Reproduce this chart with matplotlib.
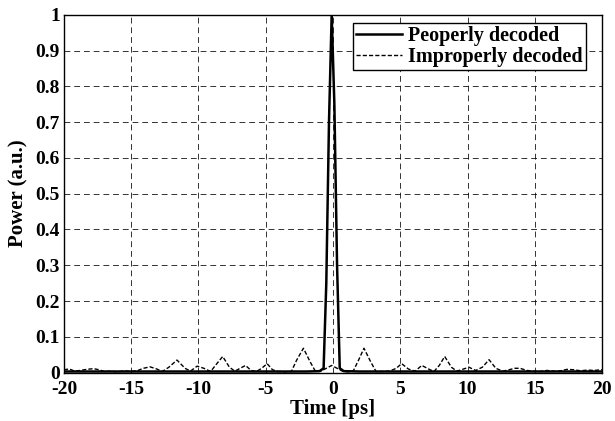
import matplotlib.pyplot as plt

plt.rcParams['font.family'] = ['Liberation Serif', 'DejaVu Serif']
plt.rcParams['font.weight'] = 'bold'

# properly decoded: narrow main peak near t = 0
proper_t = [-20, -10, -2, -1.0, -0.7, -0.5, -0.3, -0.1, 0.1, 0.3, 0.5, 0.8, 2, 10, 20]
proper_p = [0.003, 0.003, 0.003, 0.004, 0.012, 0.25, 0.7, 1.0, 0.75, 0.3, 0.012, 0.004, 0.003, 0.003, 0.003]

# improperly decoded: low sidelobes spread over the window
improper_t = [-20, -19.6, -19.2, -18.8, -18.3, -17.8, -17.4, -17.0, -16.5, -16.0, -15.5, -15.0,
              -14.5, -14.1, -13.6, -13.1, -12.7, -12.2, -11.6, -11.0, -10.6, -10.1, -9.6, -9.1,
              -8.7, -8.2, -7.7, -7.3, -6.9, -6.5, -6.1, -5.7, -5.3, -4.9, -4.5, -4.1, -3.6, -3.1,
              -2.7, -2.2, -1.7, -1.3, -0.9, -0.5, -0.1, 0.3, 0.7, 1.1, 1.5, 1.9, 2.3, 2.8, 3.2,
              3.7, 4.2, 4.7, 5.1, 5.6, 6.1, 6.6, 7.1, 7.5, 7.9, 8.3, 8.8, 9.2, 9.7, 10.1, 10.6,
              11.1, 11.6, 12.1, 12.6, 13.1, 13.5, 13.9, 14.4, 14.9, 15.4, 15.9, 16.4, 16.9, 17.4,
              17.9, 18.4, 18.9, 19.4, 20]
improper_p = [0.008, 0.01, 0.004, 0.006, 0.009, 0.011, 0.008, 0.003, 0.004, 0.002, 0.005, 0.003,
              0.006, 0.012, 0.016, 0.01, 0.003, 0.015, 0.035, 0.012, 0.004, 0.018, 0.012, 0.003,
              0.022, 0.045, 0.015, 0.004, 0.012, 0.02, 0.006, 0.003, 0.012, 0.025, 0.008, 0.003,
              0.002, 0.003, 0.035, 0.068, 0.03, 0.003, 0.004, 0.012, 0.02, 0.012, 0.004, 0.002,
              0.004, 0.035, 0.068, 0.03, 0.003, 0.003, 0.004, 0.012, 0.025, 0.01, 0.004, 0.02,
              0.01, 0.003, 0.02, 0.045, 0.015, 0.004, 0.01, 0.015, 0.006, 0.015, 0.036, 0.012,
              0.004, 0.008, 0.012, 0.012, 0.006, 0.004, 0.003, 0.006, 0.004, 0.005, 0.009, 0.008,
              0.005, 0.007, 0.006, 0.008]

x_ticks = [-20, -15, -10, -5, 0, 5, 10, 15, 20]
y_ticks = [0, 0.1, 0.2, 0.3, 0.4, 0.5, 0.6, 0.7, 0.8, 0.9, 1]
y_labels = ['0', '0.1', '0.2', '0.3', '0.4', '0.5', '0.6', '0.7', '0.8', '0.9', '1']

fig = plt.figure(figsize=(6.15, 4.21), dpi=100)
ax = fig.add_axes([0.104, 0.115, 0.875, 0.85])

ax.plot(proper_t, proper_p, color='black', lw=1.8, label='Peoperly decoded')
ax.plot(improper_t, improper_p, color='black', lw=1.0, ls=(0, (3, 1.5)), label='Improperly decoded')

ax.set_xlim(-20, 20)
ax.set_ylim(0, 1)
ax.set_xticks(x_ticks)
ax.set_xticklabels([str(t) for t in x_ticks])
ax.set_yticks(y_ticks)
ax.set_yticklabels(y_labels)
ax.tick_params(labelsize=14, length=0)
ax.tick_params(axis='x', pad=6)
ax.tick_params(axis='y', pad=3)
ax.grid(True, color='black', ls=(0, (6, 4)), lw=0.7, alpha=0.8)
for s in ax.spines.values():
    s.set_linewidth(1.0)

ax.set_xlabel('Time [ps]', fontsize=15, fontweight='bold', labelpad=1)
ax.set_ylabel('Power (a.u.)', fontsize=15, fontweight='bold', labelpad=5)

leg = ax.legend(loc='upper right', fontsize=14.5, fancybox=False, framealpha=1,
                edgecolor='black', borderpad=0.15, handlelength=2.3, handletextpad=0.3,
                labelspacing=0.05, borderaxespad=0.4, bbox_to_anchor=(0.985, 1.0))
leg.get_frame().set_linewidth(1.0)

fig.savefig('out.png', dpi=100)
